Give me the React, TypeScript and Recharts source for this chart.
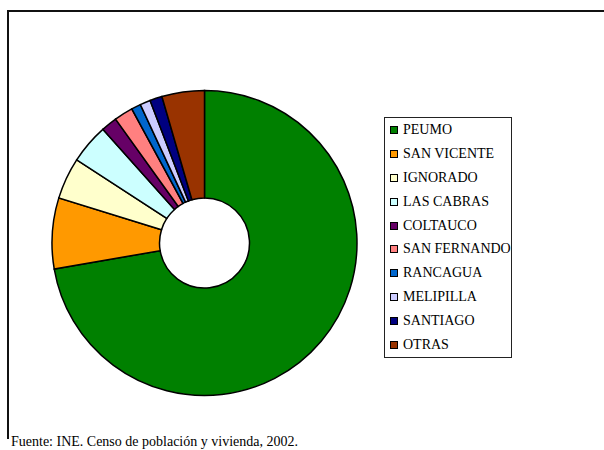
import { PieChart, Pie, Cell } from 'recharts'

const CATEGORIES = [
  'PEUMO',
  'SAN VICENTE',
  'IGNORADO',
  'LAS CABRAS',
  'COLTAUCO',
  'SAN FERNANDO',
  'RANCAGUA',
  'MELIPILLA',
  'SANTIAGO',
  'OTRAS',
]
const SHARES = [72.2, 7.5, 4.4, 4.2, 1.7, 2.0, 1.0, 1.1, 1.3, 4.5]
const COLORS = [
  '#008000',
  '#ff9900',
  '#ffffcc',
  '#ccffff',
  '#660066',
  '#ff8080',
  '#0066cc',
  '#ccccff',
  '#000080',
  '#993300',
]
const SOURCE_NOTE = 'Fuente: INE. Censo de población y vivienda, 2002.'

const FONT = "'Liberation Serif', 'DejaVu Serif', serif"

function BoxLegend(): React.JSX.Element {
  return (
    <div
      style={{
        position: 'absolute',
        left: 384,
        top: 117,
        boxSizing: 'border-box',
        width: 128,
        height: 241,
        border: '1px solid #222',
        background: '#fff',
        fontFamily: FONT,
        fontSize: 14,
        color: '#000',
      }}
    >
      {CATEGORIES.map((name, i) => (
        <div
          key={`leg-${name}`}
          style={{ display: 'flex', alignItems: 'center', height: 23.9, whiteSpace: 'nowrap' }}
        >
          <span
            style={{
              boxSizing: 'border-box',
              width: 8,
              height: 8,
              marginLeft: 5,
              marginRight: 5,
              border: '1.5px solid #000',
              background: COLORS[i],
              flexShrink: 0,
            }}
          />
          <span style={{ fontFamily: FONT }}>{name}</span>
        </div>
      ))}
    </div>
  )
}

export default function App(): React.JSX.Element {
  const data = CATEGORIES.map((name, i) => ({ name, value: SHARES[i] }))

  return (
    <div
      style={{
        position: 'fixed',
        left: 0,
        top: 0,
        width: 604,
        height: 450,
        overflow: 'hidden',
        background: '#fff',
        fontFamily: FONT,
      }}
    >
      {/* frame: only top and left edges show */}
      <div
        style={{
          position: 'absolute',
          left: 7,
          top: 10,
          width: 700,
          height: 427,
          borderLeft: '2px solid #111',
          borderTop: '2px solid #111',
        }}
      />
      <div style={{ position: 'absolute', left: 0, top: 0 }}>
        <PieChart width={604} height={450} margin={{ top: 0, right: 0, bottom: 0, left: 0 }}>
          <Pie
            data={data}
            dataKey="value"
            nameKey="name"
            cx={204.5}
            cy={243}
            innerRadius={45}
            outerRadius={152.5}
            startAngle={90}
            endAngle={-270}
            stroke="#000"
            strokeWidth={1.5}
            isAnimationActive={false}
          >
            {data.map((entry, index) => (
              <Cell key={`cell-${entry.name}`} fill={COLORS[index]} />
            ))}
          </Pie>
        </PieChart>
      </div>
      <BoxLegend />
      <div
        style={{
          position: 'absolute',
          left: 11,
          top: 435,
          fontSize: 14,
          lineHeight: '14px',
          whiteSpace: 'nowrap',
          color: '#000',
          fontFamily: FONT,
        }}
      >
        {SOURCE_NOTE}
      </div>
    </div>
  )
}
